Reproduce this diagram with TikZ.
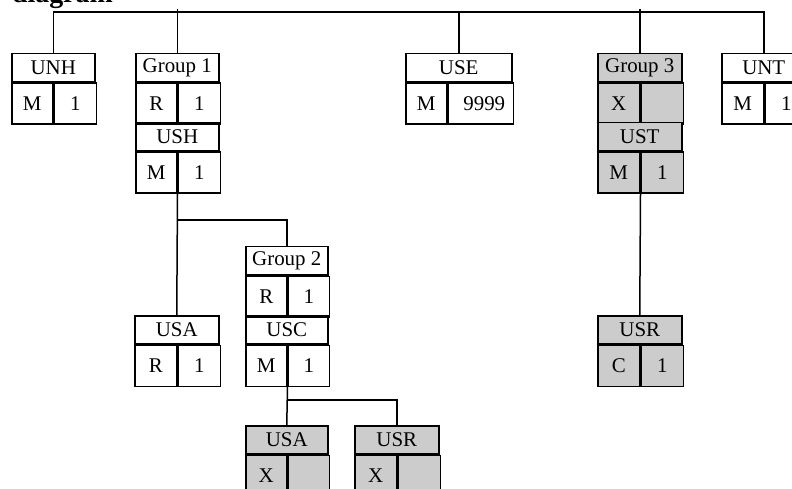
\documentclass[tikz,border=0pt]{standalone}
\usepackage{fontspec}
\setmainfont{Liberation Serif}
\tikzset{
    cell/.style={draw, line width=1.5bp, inner sep=0pt, font=\fontsize{21}{23}\selectfont},
    grey/.style={fill=black!20},
    link/.style={line width=1.5bp},
}
% header cell on top, two cells under it
\newcommand{\segbox}[9]{
    \node[cell, #9, minimum width=#4bp+#5bp, minimum height=28bp, anchor=north west] (#1) at (#2,#3) {#6};
    \node[cell, #9, minimum width=#4bp, minimum height=41bp, anchor=north west] (#1-l) at (#1.south west) {#7};
    \node[cell, #9, minimum width=#5bp, minimum height=41bp, anchor=north west] (#1-r) at (#1-l.north east) {#8};
}

\begin{document}
\begin{tikzpicture}[x=1bp,y=-1bp]
        \useasboundingbox (0,0) rectangle (792,489);
        \clip (0,0) rectangle (792,489);
        \node[anchor=base east, inner sep=0pt, font=\bfseries\fontsize{28}{30}\selectfont] (title) at (113,3) {diagram};
        \segbox{unh}{11}{53}{41}{42}{UNH}{M}{1}{}
        \segbox{g1}{135}{53}{41}{42}{Group 1}{R}{1}{}
        \segbox{ush}{135}{122}{41}{42}{USH}{M}{1}{}
        \segbox{use}{405}{53}{41}{65}{USE}{M}{\hspace*{7bp}9999}{}
        \segbox{g3}{597}{53}{42}{42}{Group 3}{X}{}{grey}
        \segbox{ust}{597}{122}{42}{42}{UST}{M}{1}{grey}
        \segbox{unt}{721}{53}{42}{42}{UNT}{M}{1}{}
        \segbox{usaa}{134}{315}{42}{42}{USA}{R}{1}{}
        \segbox{g2}{245}{246}{41}{41}{Group 2}{R}{1}{}
        \segbox{usc}{245}{315}{41}{41}{USC}{M}{1}{}
        \segbox{usrb}{597}{315}{42}{42}{USR}{C}{1}{grey}
        \segbox{usab}{245}{425}{41}{41}{USA}{X}{}{grey}
        \segbox{usrc}{354}{425}{42}{42}{USR}{X}{}{grey}
        % top level
        \draw[link] (unh.north) -- ++(0,-41) -| (unt.north);
        \draw[link] (g1.north) -- ++(0,-44);
        \draw[link] (use.north) -- ++(0,-41);
        \draw[link] (g3.north) -- ++(0,-44);
        % below USH
        \draw[link] (ush-l.south east) -- (usaa.north);
        \draw[link] (ush-l.south east) ++(0,26) -| (g2.north);
        % below USC
        \draw[link] (usc-l.south east) -- (usab.north);
        \draw[link] (usc-l.south east) ++(0,13) -| (usrc.north);
        % below UST
        \draw[link] (ust-l.south east) -- (usrb.north);
    \end{tikzpicture}
\end{document}
